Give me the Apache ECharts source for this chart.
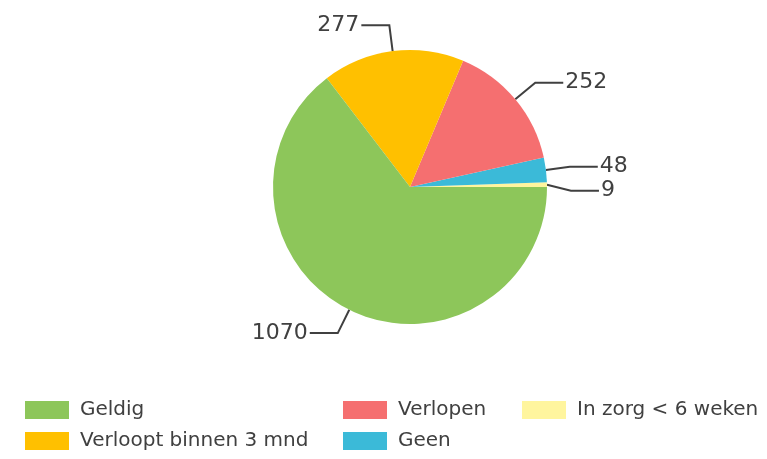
<!DOCTYPE html>
<html>
<head>
<meta charset="utf-8">
<script src="https://cdn.jsdelivr.net/npm/echarts@6/dist/echarts.min.js"></script>
<style>
  html, body { margin: 0; padding: 0; background: #fff; }
  #chart { width: 767px; height: 459px; }
</style>
</head>
<body>
<div id="chart"></div>
<script>
// slices in drawing order (counterclockwise from 3 o'clock)
const categories = ['In zorg < 6 weken', 'Geen', 'Verlopen', 'Verloopt binnen 3 mnd', 'Geldig']
const values = [9, 48, 252, 277, 1070]
const palette = ['#FFF59E', '#3BBAD8', '#F56F70', '#FFC000', '#8DC65A']

// legend columns, as laid out below the pie
const legendCol1 = ['Geldig', 'Verloopt binnen 3 mnd']
const legendCol2 = ['Verlopen', 'Geen']
const legendCol3 = ['In zorg < 6 weken']

const chartDom = document.getElementById('chart')
const myChart = echarts.init(chartDom)

const legendBase = {
  orient: 'vertical',
  top: 395,
  itemWidth: 44,
  itemHeight: 18,
  itemGap: 11,
  icon: 'rect',
  textStyle: {
    fontFamily: 'DejaVu Sans',
    fontSize: 20,
    color: '#404040',
    padding: [0, 0, 0, 6]
  }
}

const option = {
  animation: false,
  backgroundColor: '#fff',
  color: palette,
  legend: [
    Object.assign({}, legendBase, { left: 20, data: legendCol1 }),
    Object.assign({}, legendBase, { left: 338, data: legendCol2 }),
    Object.assign({}, legendBase, { left: 517, data: legendCol3 })
  ],
  series: [
    {
      type: 'pie',
      center: [410, 187],
      radius: 137,
      startAngle: 0,
      clockwise: false,
      avoidLabelOverlap: true,
      minShowLabelAngle: 0,
      data: categories.map((name, i) => ({ name: name, value: values[i] })),
      label: {
        show: true,
        formatter: '{c}',
        fontFamily: 'DejaVu Sans',
        fontSize: 22,
        lineHeight: 17,
        color: '#404040',
        distanceToLabelLine: 2
      },
      labelLine: {
        show: true,
        length: 26,
        length2: 28,
        lineStyle: { color: '#404040', width: 2 }
      },
      itemStyle: { borderWidth: 0 }
    }
  ]
}

option && myChart.setOption(option)
</script>
</body>
</html>
